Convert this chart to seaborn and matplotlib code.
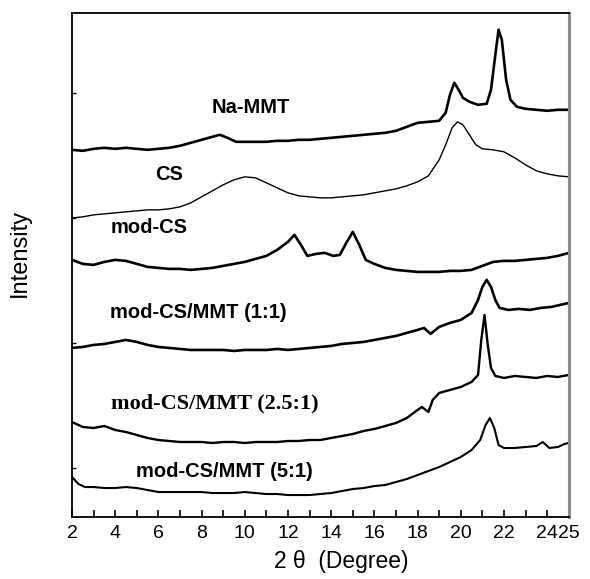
import numpy as np
import pandas as pd
import matplotlib
matplotlib.use("Agg")
import matplotlib.pyplot as plt
import seaborn as sns

sns.set_theme(style="ticks")
plt.rcParams['font.family'] = ['Liberation Sans', 'DejaVu Sans']
plt.rcParams['text.color'] = 'black'
plt.rcParams['axes.labelcolor'] = 'black'
plt.rcParams['xtick.color'] = 'black'
plt.rcParams['ytick.color'] = 'black'

# 2-theta positions and relative intensities (a.u., stacked)
na_mmt_x = [2.0, 2.5, 3.0, 3.5, 4.0, 4.5, 5.0, 5.5, 6.0, 6.5, 7.0, 7.5, 8.0, 8.5, 8.85, 9.2, 9.6, 10.0, 10.5, 11.0,
            11.5, 12.0, 12.5, 13.0, 13.5, 14.0, 14.5, 15.0, 15.5, 16.0, 16.5, 17.0, 17.5, 18.0, 18.5, 19.0, 19.3, 19.5,
            19.7, 19.9, 20.1, 20.4, 20.8, 21.2, 21.4, 21.6, 21.75, 21.9, 22.1, 22.3, 22.6, 23.0, 23.5, 24.0, 24.5, 25.0]
na_mmt_y = [367, 366, 368, 369, 368, 369, 368, 367, 368, 369, 371, 374, 377, 380, 382, 379, 375, 375, 375, 375,
            376, 376, 377, 377, 378, 379, 380, 381, 382, 383, 384, 386, 390, 394, 395, 396, 404, 422,
            434, 427, 419, 415, 412, 413, 427, 462, 487, 477, 437, 417, 410, 408, 407, 406, 407, 407]

cs_x = [2.0, 2.5, 3.0, 3.5, 4.0, 4.5, 5.0, 5.5, 6.0, 6.5, 7.0, 7.5, 8.0, 8.5, 9.0, 9.5, 10.0, 10.5, 11.0, 11.5,
        12.0, 12.5, 13.0, 13.5, 14.0, 14.5, 15.0, 15.5, 16.0, 16.5, 17.0, 17.5, 18.0, 18.5, 19.0, 19.3, 19.6, 19.85,
        20.1, 20.4, 20.7, 21.0, 21.5, 22.0, 22.5, 23.0, 23.5, 24.0, 24.5, 25.0]
cs_y = [299, 300, 302, 303, 304, 305, 306, 307, 307, 308, 310, 314, 320, 326, 332, 337, 340, 339, 334, 329,
        324, 321, 320, 319, 319, 320, 321, 322, 324, 326, 328, 331, 335, 341, 357, 372, 389, 395,
        392, 382, 372, 368, 367, 365, 359, 352, 346, 343, 341, 340]

mod_cs_x = [2.0, 2.5, 3.0, 3.5, 4.0, 4.5, 5.0, 5.5, 6.0, 6.5, 7.0, 7.5, 8.0, 8.5, 9.0, 9.5, 10.0, 10.5, 11.0, 11.5,
            12.0, 12.3, 12.6, 12.9, 13.3, 13.7, 14.1, 14.4, 14.7, 15.0, 15.3, 15.6, 16.0, 16.5, 17.0, 17.5, 18.0,
            18.5, 19.0, 19.5, 20.0, 20.5, 21.0, 21.5, 22.0, 22.5, 23.0, 23.5, 24.0, 24.5, 25.0]
mod_cs_y = [257, 253, 252, 255, 257, 256, 253, 250, 249, 248, 248, 247, 248, 249, 251, 253, 255, 258, 261, 267,
            275, 282, 272, 261, 263, 264, 261, 262, 274, 285, 272, 257, 253, 249, 247, 246, 245,
            245, 245, 246, 246, 247, 251, 255, 256, 256, 257, 258, 259, 261, 264]

r11_x = [2.0, 2.5, 3.0, 3.5, 4.0, 4.5, 5.0, 5.5, 6.0, 6.5, 7.0, 7.5, 8.0, 8.5, 9.0, 9.5, 10.0, 10.5, 11.0, 11.5,
         12.0, 12.5, 13.0, 13.5, 14.0, 14.5, 15.0, 15.5, 16.0, 16.5, 17.0, 17.5, 18.0, 18.3, 18.6, 19.0, 19.5,
         20.0, 20.5, 20.8, 21.0, 21.2, 21.4, 21.6, 21.8, 22.2, 22.7, 23.2, 23.7, 24.2, 24.6, 25.0]
r11_y = [169, 170, 172, 173, 175, 177, 175, 172, 170, 169, 168, 167, 167, 167, 167, 166, 167, 167, 167, 168,
         167, 168, 169, 170, 171, 173, 174, 175, 177, 179, 181, 184, 187, 189, 183, 190, 194,
         197, 204, 217, 230, 237, 230, 217, 209, 207, 208, 207, 209, 210, 212, 214]

r251_x = [2.0, 2.5, 3.0, 3.5, 4.0, 4.5, 5.0, 5.5, 6.0, 6.5, 7.0, 7.5, 8.0, 8.5, 9.0, 9.5, 10.0, 10.5, 11.0, 11.5,
          12.0, 12.5, 13.0, 13.5, 14.0, 14.5, 15.0, 15.5, 16.0, 16.5, 17.0, 17.5, 18.0, 18.2, 18.5, 18.7, 19.0,
          19.5, 20.0, 20.5, 20.8, 20.95, 21.1, 21.25, 21.4, 21.6, 22.0, 22.5, 23.0, 23.5, 24.0, 24.5, 25.0]
r251_y = [95, 90, 89, 91, 87, 85, 82, 79, 77, 76, 75, 75, 75, 74, 75, 75, 74, 75, 75, 75,
          76, 76, 77, 77, 79, 81, 83, 86, 88, 91, 94, 99, 107, 110, 105, 117, 124,
          127, 130, 135, 142, 177, 202, 172, 149, 141, 139, 141, 140, 139, 141, 140, 142]

r51_x = [2.0, 2.3, 2.6, 3.0, 3.5, 4.0, 4.5, 5.0, 5.5, 6.0, 6.5, 7.0, 7.5, 8.0, 8.5, 9.0, 9.5, 10.0, 10.5, 11.0,
         11.5, 12.0, 12.5, 13.0, 13.5, 14.0, 14.5, 15.0, 15.5, 16.0, 16.5, 17.0, 17.5, 18.0, 18.5, 19.0, 19.5,
         20.0, 20.5, 20.9, 21.15, 21.35, 21.55, 21.75, 22.0, 22.5, 23.0, 23.5, 23.8, 24.1, 24.5, 24.8, 25.0]
r51_y = [40, 33, 30, 30, 29, 29, 30, 29, 27, 25, 25, 25, 25, 25, 24, 24, 24, 25, 24, 23,
         23, 22, 22, 22, 23, 24, 26, 28, 29, 31, 32, 35, 38, 42, 46, 50, 55,
         60, 67, 77, 92, 99, 89, 72, 69, 69, 70, 71, 75, 69, 70, 73, 74]

sample_names = ['Na-MMT', 'CS', 'mod-CS', 'mod-CS/MMT (1:1)', 'mod-CS/MMT (2.5:1)', 'mod-CS/MMT (5:1)']
tick_vals = [2, 4, 6, 8, 10, 12, 14, 16, 18, 20, 22, 24, 25]
tick_labels = ['2', '4', '6', '8', '10', '12', '14', '16', '18', '20', '22', '24', '25']

series = [(na_mmt_x, na_mmt_y), (cs_x, cs_y), (mod_cs_x, mod_cs_y),
          (r11_x, r11_y), (r251_x, r251_y), (r51_x, r51_y)]
frames = []
for name, (xs, ys) in zip(sample_names, series):
    frames.append(pd.DataFrame({'two_theta': xs, 'intensity': ys, 'sample': name}))
df = pd.concat(frames, ignore_index=True)

fig = plt.figure(figsize=(5.9, 5.79), dpi=100)
ax = fig.add_axes([0.122, 0.107, 0.842, 0.871])

widths = [1.9, 1.0, 1.9, 1.9, 1.7, 1.5]
for name, lw in zip(sample_names, widths):
    sub = df[df['sample'] == name]
    sns.lineplot(data=sub, x='two_theta', y='intensity', color='black', lw=lw,
                 sort=False, estimator=None, ax=ax)

# curve labels
label_pos = [(10.3, 409), (6.5, 342), (5.55, 289), (7.85, 204), (8.6, 113), (9.05, 46)]
for name, (lx, ly) in zip(sample_names, label_pos):
    if '2.5' in name:
        ax.text(lx, ly, name, ha='center', va='center', fontsize=16, fontweight='bold',
                family=['Liberation Serif'])
    else:
        ax.text(lx, ly, name, ha='center', va='center', fontsize=14.5, fontweight='bold',
                family=['Liberation Sans'])

ax.set_xlim(2, 25)
ax.set_ylim(0, 504)
ax.set_xticks(tick_vals)
ax.set_xticklabels(tick_labels, fontsize=14)
ax.set_xticks([3, 5, 7, 9, 11, 13, 15, 17, 19, 21, 23], minor=True)
ax.set_yticks([49, 174, 299, 424])
ax.set_yticklabels([])
ax.tick_params(axis='x', which='both', direction='in', length=5, width=1.2, pad=6, color='black')
ax.tick_params(axis='y', direction='in', length=3, width=1, color='black')

ax.set_xlabel('2 θ  (Degree)', fontsize=16.5)
ax.xaxis.set_label_coords(0.542, -0.066)
ax.set_ylabel('Intensity', fontsize=17)
ax.yaxis.set_label_coords(-0.082, 0.524)

for side in ['left', 'top', 'bottom']:
    ax.spines[side].set_color('black')
    ax.spines[side].set_linewidth(1.3)
ax.spines['right'].set_color('#8c8c8c')
ax.spines['right'].set_linewidth(2.2)

plt.savefig('out.png', dpi=100)
plt.close()
